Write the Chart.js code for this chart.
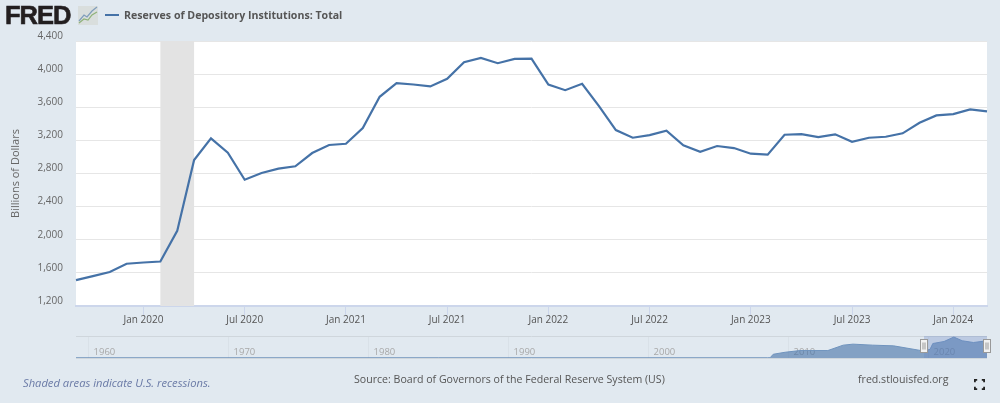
<!DOCTYPE html>
<html>
<head>
<meta charset="utf-8">
<title>Reserves of Depository Institutions: Total</title>
<script src="https://cdn.jsdelivr.net/npm/chart.js@4"></script>
<style>
    html, body { margin: 0; padding: 0; }
    body { width: 1000px; height: 403px; background: #e1e9f0; position: relative; overflow: hidden; font-family: "Open Sans", sans-serif; }
    canvas { position: absolute; left: 0; }
    #main { top: 0; }
    #nav { top: 330px; }
    .txt { position: absolute; white-space: nowrap; font-size: 10.6px; line-height: 14px; color: #555; }
    #logo { left: 5px; top: 0; font: 900 25.5px/30px "Liberation Sans", sans-serif; letter-spacing: -1px; color: #231f20; -webkit-text-stroke: .6px #231f20; }
    #logoIcon { position: absolute; left: 78px; top: 6px; }
    #swatch { position: absolute; left: 105px; top: 14px; width: 14px; height: 2px; background: #4572a7; }
    #legend { left: 124px; top: 8px; font-weight: 700; }
    #recessions { left: 23px; top: 376px; font-size: 11.2px; font-style: italic; color: #6a7aa6; }
    #source { left: 354px; top: 372px; }
    #site { left: 858px; top: 372px; }
    #full { position: absolute; left: 974px; top: 379px; }
</style>
</head>
<body>
<canvas id="main" width="1000" height="335"></canvas>
<canvas id="nav" width="1000" height="50"></canvas>
<div class="txt" id="logo">FRED</div>
<svg id="logoIcon" width="20" height="19">
    <rect width="20" height="19" fill="#d9dedd"/>
    <polyline points="1,15 6,9 9,11 14,5 19,1" fill="none" stroke="#7f9dbb" stroke-width="1.2"/>
    <polyline points="1,17 6,13 10,14 14,9 19,6" fill="none" stroke="#8fb27a" stroke-width="1.2"/>
</svg>
<div id="swatch"></div>
<div class="txt" id="legend">Reserves of Depository Institutions: Total</div>
<div class="txt" id="recessions">Shaded areas indicate U.S. recessions.</div>
<div class="txt" id="source">Source: Board of Governors of the Federal Reserve System (US)</div>
<div class="txt" id="site">fred.stlouisfed.org</div>
<svg id="full" width="11" height="11" fill="none" stroke="#222" stroke-width="1.8">
    <path d="M.9 3.2V.9H3.2M7.8 .9H10.1V3.2M10.1 7.8V10.1H7.8M3.2 10.1H.9V7.8"/>
</svg>
<script>
const months = [
    'Sep 2019', 'Oct 2019', 'Nov 2019', 'Dec 2019',
    'Jan 2020', 'Feb 2020', 'Mar 2020', 'Apr 2020', 'May 2020', 'Jun 2020',
    'Jul 2020', 'Aug 2020', 'Sep 2020', 'Oct 2020', 'Nov 2020', 'Dec 2020',
    'Jan 2021', 'Feb 2021', 'Mar 2021', 'Apr 2021', 'May 2021', 'Jun 2021',
    'Jul 2021', 'Aug 2021', 'Sep 2021', 'Oct 2021', 'Nov 2021', 'Dec 2021',
    'Jan 2022', 'Feb 2022', 'Mar 2022', 'Apr 2022', 'May 2022', 'Jun 2022',
    'Jul 2022', 'Aug 2022', 'Sep 2022', 'Oct 2022', 'Nov 2022', 'Dec 2022',
    'Jan 2023', 'Feb 2023', 'Mar 2023', 'Apr 2023', 'May 2023', 'Jun 2023',
    'Jul 2023', 'Aug 2023', 'Sep 2023', 'Oct 2023', 'Nov 2023', 'Dec 2023',
    'Jan 2024', 'Feb 2024', 'Mar 2024'
];
const reserves = [
    1513, 1561, 1610, 1710,
    1725, 1737, 2107, 2963, 3224, 3051,
    2725, 2806, 2858, 2887, 3047, 3144,
    3159, 3348, 3726, 3891, 3875, 3851,
    3943, 4144, 4196, 4132, 4183, 4188,
    3875, 3806, 3883, 3613, 3325, 3232,
    3264, 3316, 3140, 3063, 3132, 3107,
    3039, 3027, 3268, 3276, 3240, 3273,
    3183, 3232, 3244, 3285, 3412, 3501,
    3517, 3574, 3550
];
const xTickLabels = ['Jan 2020', 'Jul 2020', 'Jan 2021', 'Jul 2021', 'Jan 2022', 'Jul 2022', 'Jan 2023', 'Jul 2023', 'Jan 2024'];
const recession = ['Feb 2020', 'Apr 2020'];

// navigator: whole history, in fractional years
const navYears = [1959.1, 1985, 2008.5, 2008.68, 2008.9, 2009.75, 2010.8, 2012.8, 2013.9, 2014.6, 2016, 2017.5, 2019.6, 2020.1, 2020.3, 2021.1, 2021.8, 2022.4, 2023.2, 2024.17];
const navValues = [40, 40, 40, 50, 745, 1150, 1490, 1490, 2570, 2770, 2570, 2430, 1420, 1725, 2900, 3300, 4190, 3450, 3100, 3450];
const navTickYears = [1960, 1970, 1980, 1990, 2000, 2010, 2020];
const navSelected = [2019.67, 2024.17];

const fontFamily = '"Open Sans", sans-serif';

const plotBackground = {
    id: 'plotBackground',
    beforeDraw(chart) {
        const a = chart.chartArea;
        chart.ctx.fillStyle = '#fff';
        chart.ctx.fillRect(a.left, a.top, a.width, a.height);
    }
};

const recessionBand = {
    id: 'recessionBand',
    beforeDatasetsDraw(chart) {
        const a = chart.chartArea;
        const x0 = chart.scales.x.getPixelForValue(months.indexOf(recession[0]));
        const x1 = chart.scales.x.getPixelForValue(months.indexOf(recession[1]));
        chart.ctx.fillStyle = '#e3e3e3';
        chart.ctx.fillRect(x0, a.top, x1 - x0, a.height);
    }
};

const navMask = {
    id: 'navMask',
    afterDraw(chart) {
        const ctx = chart.ctx, a = chart.chartArea;
        const x0 = chart.scales.x.getPixelForValue(navSelected[0]);
        const x1 = chart.scales.x.getPixelForValue(navSelected[1]);
        ctx.fillStyle = 'rgba(102,133,194,0.3)';
        ctx.fillRect(x0, a.top, x1 - x0, a.height);
        [x0, x1].forEach(x => {
            const left = Math.round(x) - 3.5, top = a.top + 3.5;
            ctx.fillStyle = '#f2f2f2';
            ctx.strokeStyle = '#999';
            ctx.lineWidth = 1;
            ctx.fillRect(left, top, 7, 13);
            ctx.strokeRect(left, top, 7, 13);
            ctx.beginPath();
            ctx.moveTo(left + 2.5, top + 3);
            ctx.lineTo(left + 2.5, top + 10);
            ctx.moveTo(left + 4.5, top + 3);
            ctx.lineTo(left + 4.5, top + 10);
            ctx.stroke();
        });
    }
};

new Chart(document.getElementById('main'), {
    type: 'line',
    data: {
        labels: months,
        datasets: [{
            label: 'Reserves of Depository Institutions: Total',
            data: reserves,
            borderColor: '#4572a7',
            borderWidth: 2.2,
            pointRadius: 0,
            tension: 0,
            fill: false
        }]
    },
    options: {
        responsive: false,
        animation: false,
        layout: { padding: { top: 41, right: 13, left: 0, bottom: 0 } },
        plugins: { legend: { display: false }, tooltip: { enabled: false } },
        scales: {
            x: {
                afterBuildTicks: s => {
                    s.ticks = s.ticks.filter(t => xTickLabels.includes(months[t.value]));
                },
                afterFit: s => { s.height = 29; },
                border: { color: '#ccd6eb', width: 2 },
                grid: { drawOnChartArea: false, tickColor: '#ccd6eb', tickLength: 9 },
                ticks: {
                    autoSkip: false,
                    maxRotation: 0,
                    padding: -1,
                    color: '#555',
                    font: { family: fontFamily, size: 10 }
                }
            },
            y: {
                min: 1200,
                max: 4400,
                afterFit: s => { s.width = 76; },
                border: { display: false },
                grid: { color: '#e6e6e6', drawTicks: false },
                title: {
                    display: true,
                    text: 'Billions of Dollars',
                    color: '#666',
                    padding: { top: 9.4, bottom: 0 },
                    font: { family: fontFamily, size: 11 }
                },
                ticks: {
                    stepSize: 400,
                    align: 'end',
                    padding: 13,
                    color: '#666',
                    font: { family: fontFamily, size: 10 },
                    callback: v => v.toLocaleString('en-US')
                }
            }
        }
    },
    plugins: [plotBackground, recessionBand]
});

new Chart(document.getElementById('nav'), {
    type: 'line',
    data: {
        datasets: [{
            data: navYears.map((y, i) => ({ x: y, y: navValues[i] })),
            borderColor: '#6f93bd',
            borderWidth: 1,
            backgroundColor: 'rgba(69,114,167,0.6)',
            pointRadius: 0,
            tension: 0,
            fill: 'origin'
        }]
    },
    options: {
        responsive: false,
        animation: false,
        layout: { padding: { top: 6, right: 13, left: 76, bottom: 22 } },
        plugins: { legend: { display: false }, tooltip: { enabled: false } },
        scales: {
            x: {
                type: 'linear',
                min: 1959.1,
                max: 2024.17,
                afterFit: s => { s.height = 0; },
                border: { display: false },
                grid: { color: '#d9e1e8', drawTicks: false },
                ticks: {
                    autoSkip: false,
                    align: 'start',
                    // mirror keeps the labels from being clipped to the zero-height axis box
                    mirror: true,
                    padding: 0,
                    maxRotation: 0,
                    color: '#a8a8a8',
                    font: { family: fontFamily, size: 9.5 },
                    callback: v => '  ' + v
                },
                afterBuildTicks: s => {
                    s.ticks = navTickYears.map(value => ({ value }));
                }
            },
            y: {
                min: 0,
                max: 4400,
                afterFit: s => { s.width = 0; },
                border: { display: false },
                grid: { color: '#cfd6dc', drawTicks: false },
                ticks: { display: false, stepSize: 4400 }
            }
        }
    },
    plugins: [navMask]
});
</script>
</body>
</html>
